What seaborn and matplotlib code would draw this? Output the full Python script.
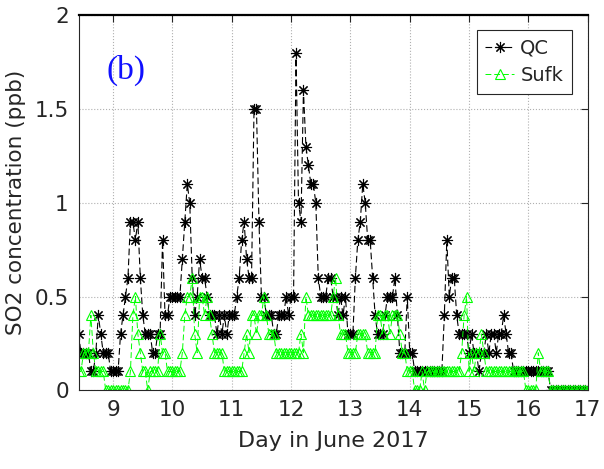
# %%
# import libraries

import numpy as np
import pandas as pd
import matplotlib
matplotlib.use('Agg')
import matplotlib.pyplot as plt
import seaborn as sns

# %%
# hourly SO2 data, first sample on June 8 at 10:00

START_DAY = 8 + 10 / 24.

qc = [0.3, 0.2, 0.2, 0.2, 0.2, 0.1, 0.1, 0.2, 0.4, 0.3,
      0.2, 0.2, 0.2, 0.1, 0.1, 0.1, 0.1, 0.3, 0.4, 0.5,
      0.6, 0.9, 0.9, 0.8, 0.9, 0.6, 0.4, 0.3, 0.3, 0.3,
      0.2, 0.2, 0.3, 0.3, 0.8, 0.4, 0.4, 0.5, 0.5, 0.5,
      0.5, 0.5, 0.7, 0.9, 1.1, 1.0, 0.6, 0.4, 0.5, 0.7,
      0.6, 0.6, 0.5, 0.4, 0.4, 0.4, 0.3, 0.4, 0.3, 0.4,
      0.3, 0.4, 0.4, 0.4, 0.5, 0.6, 0.8, 0.9, 0.7, 0.6,
      0.6, 1.5, 1.5, 0.9, 0.5, 0.5, 0.4, 0.4, 0.4, 0.3,
      0.3, 0.4, 0.4, 0.4, 0.5, 0.4, 0.5, 0.5, 1.8, 1.0,
      0.9, 1.6, 1.3, 1.2, 1.1, 1.1, 1.0, 0.6, 0.5, 0.5,
      0.5, 0.6, 0.6, 0.5, 0.5, 0.4, 0.5, 0.4, 0.5, 0.3,
      0.3, 0.3, 0.6, 0.8, 0.9, 1.1, 1.0, 0.8, 0.8, 0.6,
      0.4, 0.3, 0.3, 0.3, 0.4, 0.5, 0.5, 0.5, 0.6, 0.4,
      0.2, 0.2, 0.2, 0.5, 0.2, 0.2, 0.1, 0.1, 0.1, 0.1,
      0.1, 0.1, 0.1, 0.1, 0.1, 0.1, 0.1, 0.1, 0.4, 0.8,
      0.5, 0.6, 0.6, 0.4, 0.3, 0.3, 0.3, 0.3, 0.2, 0.3,
      0.2, 0.2, 0.1, 0.2, 0.2, 0.3, 0.2, 0.3, 0.3, 0.2,
      0.3, 0.3, 0.4, 0.3, 0.2, 0.2, 0.1, 0.1, 0.1, 0.1,
      0.1, 0.1, 0.1, 0.1, 0.1, 0.1, 0.1, 0.1, 0.1, 0.1,
      0.1, 0.0, 0.0, 0.0, 0.0, 0.0, 0.0, 0.0, 0.0, 0.0,
      0.0, 0.0, 0.0, 0.0, 0.0, 0.0, 0.0]

sufk = [0.1, 0.1, 0.2, 0.2, 0.2, 0.4, 0.2, 0.1, 0.1, 0.1,
        0.1, 0.0, 0.0, 0.0, 0.0, 0.0, 0.0, 0.0, 0.0, 0.0,
        0.0, 0.1, 0.4, 0.5, 0.3, 0.2, 0.1, 0.1, 0.0, 0.1,
        0.1, 0.1, 0.1, 0.3, 0.2, 0.2, 0.1, 0.1, 0.1, 0.1,
        0.1, 0.1, 0.2, 0.4, 0.5, 0.5, 0.6, 0.3, 0.2, 0.5,
        0.5, 0.4, 0.5, 0.4, 0.3, 0.2, 0.2, 0.2, 0.2, 0.1,
        0.1, 0.1, 0.1, 0.1, 0.1, 0.1, 0.1, 0.2, 0.3, 0.2,
        0.4, 0.4, 0.3, 0.4, 0.4, 0.5, 0.4, 0.3, 0.3, 0.3,
        0.2, 0.2, 0.2, 0.2, 0.2, 0.2, 0.2, 0.2, 0.2, 0.2,
        0.3, 0.2, 0.5, 0.4, 0.4, 0.4, 0.4, 0.4, 0.4, 0.4,
        0.4, 0.4, 0.4, 0.5, 0.6, 0.4, 0.3, 0.3, 0.3, 0.2,
        0.2, 0.2, 0.2, 0.3, 0.3, 0.3, 0.3, 0.2, 0.2, 0.2,
        0.2, 0.4, 0.4, 0.3, 0.4, 0.4, 0.3, 0.4, 0.4, 0.4,
        0.3, 0.2, 0.2, 0.1, 0.1, 0.1, 0.0, 0.0, 0.0, 0.1,
        0.0, 0.1, 0.1, 0.1, 0.1, 0.1, 0.1, 0.1, 0.1, 0.1,
        0.1, 0.1, 0.1, 0.1, 0.1, 0.2, 0.4, 0.5, 0.1, 0.2,
        0.1, 0.2, 0.2, 0.3, 0.2, 0.1, 0.1, 0.1, 0.1, 0.1,
        0.1, 0.1, 0.1, 0.1, 0.1, 0.1, 0.1, 0.1, 0.1, 0.1,
        0.1, 0.0, 0.0, 0.0, 0.0, 0.0, 0.2, 0.1, 0.1, 0.1,
        0.1, 0.0, 0.0, 0.0, 0.0, 0.0, 0.0, 0.0, 0.0, 0.0,
        0.0, 0.0, 0.0, 0.0, 0.0, 0.0, 0.0]

x_ticks = [9, 10, 11, 12, 13, 14, 15, 16, 17]
y_ticks = [0, 0.5, 1, 1.5, 2]
y_tick_labels = ['0', '0.5', '1', '1.5', '2']

# %%
# build a table for seaborn

df = pd.DataFrame({'hour': np.arange(len(qc)), 'QC': qc, 'Sufk': sufk})
df['day'] = START_DAY + df['hour'] / 24.

# %%
# draw the chart

sns.set_style('whitegrid')
plt.rcParams['font.family'] = ['DejaVu Sans']

fig = plt.figure(figsize = (6.04, 4.69), dpi = 100)
axis = fig.add_axes([0.130, 0.168, 0.843, 0.799])

sns.lineplot(data = df, x = 'day', y = 'QC', ax = axis, color = 'black', linestyle = (0, (6, 3)),
             linewidth = 0.8, marker = (8, 2, 0), markersize = 8, markeredgewidth = 0.8,
             markeredgecolor = 'black', label = 'QC')
sns.lineplot(data = df, x = 'day', y = 'Sufk', ax = axis, color = '#00ff00', linestyle = (0, (6, 3)),
             linewidth = 0.7, marker = '^', markersize = 6.5, markeredgewidth = 0.8,
             markerfacecolor = 'none', markeredgecolor = '#00ff00', label = 'Sufk')

axis.set_xlim(START_DAY, 17)
axis.set_ylim(0, 2)
axis.set_xticks(x_ticks)
axis.set_yticks(y_ticks)
axis.set_yticklabels(y_tick_labels)
axis.tick_params(direction = 'in', top = True, right = True, length = 5, width = 0.8,
                 labelsize = 15.5, colors = '#262626', pad = 7)
axis.grid(True, linestyle = ':', color = '#b0b0b0', linewidth = 0.8)
for side in ['left', 'bottom', 'right']:
    axis.spines[side].set_color('#262626')
    axis.spines[side].set_linewidth(0.8)
axis.spines['top'].set_color('black')
axis.spines['top'].set_linewidth(1.6)

axis.set_xlabel('Day in June 2017', fontsize = 16, color = '#262626', labelpad = 8)
axis.set_ylabel('SO2 concentration (ppb)', fontsize = 15.5, color = '#262626', labelpad = 6)

axis.text(8.88, 1.66, '(b)', color = '#1010ff', fontsize = 24, family = 'Liberation Serif')

leg = axis.legend(loc = 'upper right', bbox_to_anchor = (0.969, 0.962), borderaxespad = 0,
                  fontsize = 14, handlelength = 1.5, handletextpad = 0.3, labelspacing = 0.45,
                  borderpad = 0.45, fancybox = False, framealpha = 1, edgecolor = '#262626')
leg.get_frame().set_linewidth(0.8)

fig.savefig('out.png', dpi = 100)
